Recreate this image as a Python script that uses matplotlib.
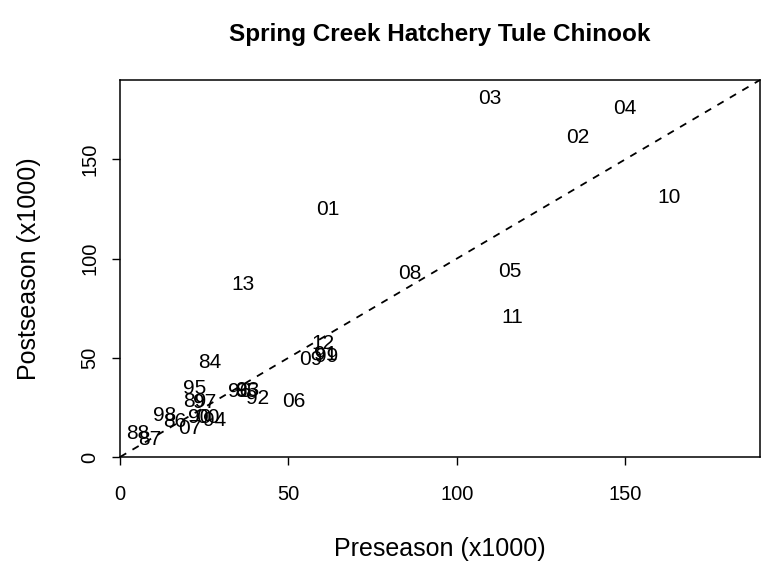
import matplotlib.pyplot as plt

plt.rcParams['font.family'] = ['Liberation Sans', 'DejaVu Sans']

# return years and run sizes (x1000)
years = ['84', '85', '86', '87', '88', '89', '90', '91', '92', '93',
         '94', '95', '96', '97', '98', '99', '00', '01', '02', '03',
         '04', '05', '06', '07', '08', '09', '10', '11', '12', '13']
pre = [26.7, 37.5, 16.3, 8.9, 5.3, 22.2, 23.7, 61.0, 40.9, 38.0,
       28.1, 22.2, 35.5, 25.2, 13.3, 61.3, 26.0, 61.6, 136.0, 109.9,
       150.0, 115.6, 51.6, 20.7, 85.9, 56.6, 163.0, 116.4, 60.1, 36.4]
post = [47.5, 33.0, 17.7, 8.6, 12.0, 27.8, 19.7, 51.5, 29.3, 33.5,
        18.2, 34.3, 33.0, 27.3, 20.7, 50.5, 19.7, 124.7, 161.0, 180.8,
        175.8, 93.4, 27.8, 14.6, 92.4, 49.0, 130.8, 70.2, 57.0, 86.9]

fig = plt.figure(figsize=(7.61, 5.64), dpi=100)
ax = fig.add_axes([0.1577, 0.1897, 0.8410, 0.6685])

for yr, x, y in zip(years, pre, post):
    ax.text(x, y, yr, ha='center', va='center', fontsize=15)

ax.plot([0, 190], [0, 190], ls=(0, (4, 4)), color='black', lw=1.3)

ax.set_xlim(0, 190)
ax.set_ylim(0, 190)
ax.set_xticks([0, 50, 100, 150])
ax.set_yticks([0, 50, 100, 150])
ax.set_yticklabels(['0', '50', '100', '150'], rotation=90, va='center')
ax.tick_params(direction='out', length=6, width=1, labelsize=14.5)
ax.tick_params(axis='x', pad=14)
ax.tick_params(axis='y', pad=9)
for s in ax.spines.values():
    s.set_linewidth(1.1)

ax.set_xlabel('Preseason (x1000)', fontsize=18, labelpad=24)
ax.set_ylabel('Postseason (x1000)', fontsize=18, labelpad=28)
ax.set_title('Spring Creek Hatchery Tule Chinook', fontsize=17.5,
             fontweight='bold', pad=28)

fig.savefig('out.png', dpi=100)
